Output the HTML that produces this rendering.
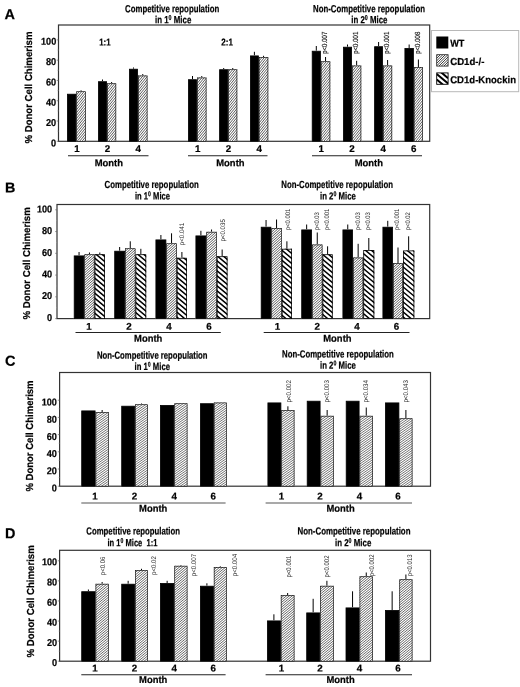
<!DOCTYPE html>
<html lang="en"><head><meta charset="utf-8"><title>Figure</title>
<style>
html,body{margin:0;padding:0;background:#fff;}
body{width:520px;height:687px;overflow:hidden;}
svg{display:block;font-family:'Liberation Sans', Arial, Helvetica, sans-serif;filter:grayscale(1);text-rendering:geometricPrecision;}
</style></head>
<body>
<svg width="520" height="687" viewBox="0 0 520 687">
<rect width="520" height="687" fill="#fff"/>
<defs><clipPath id="ckoA"><rect x="76.3" y="91.3" width="9.50" height="50.00"/><rect x="107" y="83.3" width="9.20" height="58.00"/><rect x="138" y="75.5" width="9.50" height="65.80"/><rect x="197" y="77.5" width="9.50" height="63.80"/><rect x="228.2" y="69.3" width="9.10" height="72.00"/><rect x="258.8" y="57" width="9.50" height="84.30"/><rect x="320.8" y="61.3" width="9.50" height="80.00"/><rect x="352" y="65.5" width="9.30" height="75.80"/><rect x="383" y="65.5" width="9.20" height="75.80"/><rect x="413.8" y="67" width="9.20" height="74.30"/></clipPath>
<clipPath id="ckoL"><rect x="436.7" y="54.7" width="11.40" height="11.40"/></clipPath>
<clipPath id="ckoB"><rect x="84.3" y="254.3" width="10.30" height="64.30"/><rect x="125" y="248.3" width="10.50" height="70.30"/><rect x="166.3" y="243.3" width="10.50" height="75.30"/><rect x="206.3" y="231.8" width="10.50" height="86.80"/><rect x="271.3" y="228" width="10.50" height="90.60"/><rect x="312" y="244.5" width="10.50" height="74.10"/><rect x="353" y="257.5" width="10.30" height="61.10"/><rect x="393" y="263" width="10.00" height="55.60"/></clipPath>
<clipPath id="ckoC"><rect x="95.5" y="412" width="13.30" height="74.20"/><rect x="135" y="404.3" width="13.00" height="81.90"/><rect x="174.3" y="403.3" width="13.20" height="82.90"/><rect x="213.8" y="402.5" width="13.00" height="83.70"/><rect x="281.3" y="410" width="13.20" height="76.20"/><rect x="320.5" y="415.8" width="13.30" height="70.40"/><rect x="359.5" y="415.8" width="13.50" height="70.40"/><rect x="399.3" y="418.3" width="13.20" height="67.90"/></clipPath>
<clipPath id="ckoD"><rect x="95.5" y="583.8" width="13.30" height="77.40"/><rect x="135" y="570" width="13.00" height="91.20"/><rect x="174.3" y="565.8" width="13.20" height="95.40"/><rect x="213.8" y="567" width="13.00" height="94.20"/><rect x="280.8" y="595" width="13.70" height="66.20"/><rect x="320" y="585.8" width="13.80" height="75.40"/><rect x="359.5" y="576.3" width="13.50" height="84.90"/><rect x="399.3" y="579.3" width="13.20" height="81.90"/></clipPath>
<clipPath id="ckil"><rect x="436.7" y="72.9" width="11.4" height="11.4"/></clipPath><clipPath id="cki"><rect x="94.6" y="254.3" width="10.40" height="64.30"/><rect x="135.5" y="254.3" width="10.70" height="64.30"/><rect x="176.8" y="257.8" width="10.20" height="60.80"/><rect x="216.8" y="256.3" width="10.70" height="62.30"/><rect x="281.8" y="248.8" width="10.20" height="69.80"/><rect x="322.5" y="254.3" width="10.20" height="64.30"/><rect x="363.3" y="250" width="11.00" height="68.60"/><rect x="403" y="250.5" width="11.30" height="68.10"/></clipPath></defs>
<rect x="58.5" y="25" width="371.2" height="116.30000000000001" fill="none" stroke="#333" stroke-width="1.2"/>
<line x1="56.7" y1="141.3" x2="58.5" y2="141.3" stroke="#666" stroke-width="0.7"/>
<line x1="57.5" y1="131.16000000000003" x2="58.5" y2="131.16000000000003" stroke="#999" stroke-width="0.6"/>
<line x1="56.7" y1="121.02000000000001" x2="58.5" y2="121.02000000000001" stroke="#666" stroke-width="0.7"/>
<line x1="57.5" y1="110.88000000000001" x2="58.5" y2="110.88000000000001" stroke="#999" stroke-width="0.6"/>
<line x1="56.7" y1="100.74000000000001" x2="58.5" y2="100.74000000000001" stroke="#666" stroke-width="0.7"/>
<line x1="57.5" y1="90.60000000000001" x2="58.5" y2="90.60000000000001" stroke="#999" stroke-width="0.6"/>
<line x1="56.7" y1="80.46000000000001" x2="58.5" y2="80.46000000000001" stroke="#666" stroke-width="0.7"/>
<line x1="57.5" y1="70.32000000000001" x2="58.5" y2="70.32000000000001" stroke="#999" stroke-width="0.6"/>
<line x1="56.7" y1="60.18000000000001" x2="58.5" y2="60.18000000000001" stroke="#666" stroke-width="0.7"/>
<line x1="57.5" y1="50.040000000000006" x2="58.5" y2="50.040000000000006" stroke="#999" stroke-width="0.6"/>
<line x1="56.7" y1="39.900000000000006" x2="58.5" y2="39.900000000000006" stroke="#666" stroke-width="0.7"/>
<rect x="67" y="93.8" width="9.30" height="47.50" fill="#fff"/>
<line x1="81.05" y1="90.3" x2="81.05" y2="91.3" stroke="#000" stroke-width="1.0"/>
<rect x="76.3" y="91.3" width="9.50" height="50.00" fill="#fff"/>
<line x1="102.5" y1="79.5" x2="102.5" y2="81.3" stroke="#000" stroke-width="1.0"/>
<rect x="98" y="81.3" width="9.00" height="60.00" fill="#fff"/>
<line x1="111.6" y1="82" x2="111.6" y2="83.3" stroke="#000" stroke-width="1.0"/>
<rect x="107" y="83.3" width="9.20" height="58.00" fill="#fff"/>
<line x1="133.5" y1="67.5" x2="133.5" y2="68.8" stroke="#000" stroke-width="1.0"/>
<rect x="129" y="68.8" width="9.00" height="72.50" fill="#fff"/>
<line x1="142.75" y1="74" x2="142.75" y2="75.5" stroke="#000" stroke-width="1.0"/>
<rect x="138" y="75.5" width="9.50" height="65.80" fill="#fff"/>
<line x1="192.5" y1="76" x2="192.5" y2="79.3" stroke="#000" stroke-width="1.0"/>
<rect x="188" y="79.3" width="9.00" height="62.00" fill="#fff"/>
<line x1="201.75" y1="76" x2="201.75" y2="77.5" stroke="#000" stroke-width="1.0"/>
<rect x="197" y="77.5" width="9.50" height="63.80" fill="#fff"/>
<line x1="223.7" y1="68" x2="223.7" y2="69.3" stroke="#000" stroke-width="1.0"/>
<rect x="219.2" y="69.3" width="9.00" height="72.00" fill="#fff"/>
<line x1="232.75" y1="68" x2="232.75" y2="69.3" stroke="#000" stroke-width="1.0"/>
<rect x="228.2" y="69.3" width="9.10" height="72.00" fill="#fff"/>
<line x1="254.4" y1="51.8" x2="254.4" y2="55.5" stroke="#000" stroke-width="1.0"/>
<rect x="250" y="55.5" width="8.80" height="85.80" fill="#fff"/>
<line x1="263.55" y1="55.8" x2="263.55" y2="57" stroke="#000" stroke-width="1.0"/>
<rect x="258.8" y="57" width="9.50" height="84.30" fill="#fff"/>
<line x1="316.3" y1="46" x2="316.3" y2="50.8" stroke="#000" stroke-width="1.0"/>
<rect x="311.8" y="50.8" width="9.00" height="90.50" fill="#fff"/>
<line x1="325.55" y1="57" x2="325.55" y2="61.3" stroke="#000" stroke-width="1.0"/>
<rect x="320.8" y="61.3" width="9.50" height="80.00" fill="#fff"/>
<line x1="347.5" y1="44.5" x2="347.5" y2="46.8" stroke="#000" stroke-width="1.0"/>
<rect x="343" y="46.8" width="9.00" height="94.50" fill="#fff"/>
<line x1="356.65" y1="60.8" x2="356.65" y2="65.5" stroke="#000" stroke-width="1.0"/>
<rect x="352" y="65.5" width="9.30" height="75.80" fill="#fff"/>
<line x1="378.6" y1="42" x2="378.6" y2="46.3" stroke="#000" stroke-width="1.0"/>
<rect x="374.2" y="46.3" width="8.80" height="95.00" fill="#fff"/>
<line x1="387.6" y1="60" x2="387.6" y2="65.5" stroke="#000" stroke-width="1.0"/>
<rect x="383" y="65.5" width="9.20" height="75.80" fill="#fff"/>
<line x1="409.15" y1="44.5" x2="409.15" y2="48" stroke="#000" stroke-width="1.0"/>
<rect x="404.5" y="48" width="9.30" height="93.30" fill="#fff"/>
<line x1="418.4" y1="59.5" x2="418.4" y2="67" stroke="#000" stroke-width="1.0"/>
<rect x="413.8" y="67" width="9.20" height="74.30" fill="#fff"/>
<line x1="68" y1="155.7" x2="148.5" y2="155.7" stroke="#222" stroke-width="1.1"/>
<line x1="188" y1="155.7" x2="267.5" y2="155.7" stroke="#222" stroke-width="1.1"/>
<line x1="312" y1="155.7" x2="422" y2="155.7" stroke="#222" stroke-width="1.1"/>
<rect x="431.5" y="30.5" width="87.2" height="61.2" fill="#fff" stroke="#b8b8b8" stroke-width="1"/>
<rect x="436.3" y="36.5" width="12" height="12" fill="#000"/>
<rect x="57" y="204.5" width="372.7" height="114.10000000000002" fill="none" stroke="#333" stroke-width="1.2"/>
<line x1="55.2" y1="318.6" x2="57" y2="318.6" stroke="#666" stroke-width="0.7"/>
<line x1="56.0" y1="307.72" x2="57" y2="307.72" stroke="#999" stroke-width="0.6"/>
<line x1="55.2" y1="296.84000000000003" x2="57" y2="296.84000000000003" stroke="#666" stroke-width="0.7"/>
<line x1="56.0" y1="285.96000000000004" x2="57" y2="285.96000000000004" stroke="#999" stroke-width="0.6"/>
<line x1="55.2" y1="275.08000000000004" x2="57" y2="275.08000000000004" stroke="#666" stroke-width="0.7"/>
<line x1="56.0" y1="264.20000000000005" x2="57" y2="264.20000000000005" stroke="#999" stroke-width="0.6"/>
<line x1="55.2" y1="253.32000000000002" x2="57" y2="253.32000000000002" stroke="#666" stroke-width="0.7"/>
<line x1="56.0" y1="242.44" x2="57" y2="242.44" stroke="#999" stroke-width="0.6"/>
<line x1="55.2" y1="231.56" x2="57" y2="231.56" stroke="#666" stroke-width="0.7"/>
<line x1="56.0" y1="220.68" x2="57" y2="220.68" stroke="#999" stroke-width="0.6"/>
<line x1="55.2" y1="209.8" x2="57" y2="209.8" stroke="#666" stroke-width="0.7"/>
<line x1="79.05" y1="252" x2="79.05" y2="255.5" stroke="#000" stroke-width="1.0"/>
<rect x="73.8" y="255.5" width="10.50" height="63.10" fill="#fff"/>
<line x1="89.44999999999999" y1="252.5" x2="89.44999999999999" y2="254.3" stroke="#000" stroke-width="1.0"/>
<rect x="84.3" y="254.3" width="10.30" height="64.30" fill="#fff"/>
<line x1="99.8" y1="252.5" x2="99.8" y2="254.3" stroke="#000" stroke-width="1.0"/>
<rect x="94.6" y="254.3" width="10.40" height="64.30" fill="#fff"/>
<line x1="119.65" y1="247" x2="119.65" y2="250.8" stroke="#000" stroke-width="1.0"/>
<rect x="114.3" y="250.8" width="10.70" height="67.80" fill="#fff"/>
<line x1="130.25" y1="241.3" x2="130.25" y2="248.3" stroke="#000" stroke-width="1.0"/>
<rect x="125" y="248.3" width="10.50" height="70.30" fill="#fff"/>
<line x1="140.85" y1="248.8" x2="140.85" y2="254.3" stroke="#000" stroke-width="1.0"/>
<rect x="135.5" y="254.3" width="10.70" height="64.30" fill="#fff"/>
<line x1="160.9" y1="235" x2="160.9" y2="239.5" stroke="#000" stroke-width="1.0"/>
<rect x="155.5" y="239.5" width="10.80" height="79.10" fill="#fff"/>
<line x1="171.55" y1="233.3" x2="171.55" y2="243.3" stroke="#000" stroke-width="1.0"/>
<rect x="166.3" y="243.3" width="10.50" height="75.30" fill="#fff"/>
<line x1="181.9" y1="252" x2="181.9" y2="257.8" stroke="#000" stroke-width="1.0"/>
<rect x="176.8" y="257.8" width="10.20" height="60.80" fill="#fff"/>
<line x1="200.9" y1="230.8" x2="200.9" y2="235.5" stroke="#000" stroke-width="1.0"/>
<rect x="195.5" y="235.5" width="10.80" height="83.10" fill="#fff"/>
<line x1="211.55" y1="229.5" x2="211.55" y2="231.8" stroke="#000" stroke-width="1.0"/>
<rect x="206.3" y="231.8" width="10.50" height="86.80" fill="#fff"/>
<line x1="222.15" y1="249.5" x2="222.15" y2="256.3" stroke="#000" stroke-width="1.0"/>
<rect x="216.8" y="256.3" width="10.70" height="62.30" fill="#fff"/>
<line x1="266.05" y1="220" x2="266.05" y2="226.8" stroke="#000" stroke-width="1.0"/>
<rect x="260.8" y="226.8" width="10.50" height="91.80" fill="#fff"/>
<line x1="276.55" y1="219.5" x2="276.55" y2="228" stroke="#000" stroke-width="1.0"/>
<rect x="271.3" y="228" width="10.50" height="90.60" fill="#fff"/>
<line x1="286.9" y1="241.3" x2="286.9" y2="248.8" stroke="#000" stroke-width="1.0"/>
<rect x="281.8" y="248.8" width="10.20" height="69.80" fill="#fff"/>
<line x1="306.65" y1="224.5" x2="306.65" y2="229.5" stroke="#000" stroke-width="1.0"/>
<rect x="301.3" y="229.5" width="10.70" height="89.10" fill="#fff"/>
<line x1="317.25" y1="232.5" x2="317.25" y2="244.5" stroke="#000" stroke-width="1.0"/>
<rect x="312" y="244.5" width="10.50" height="74.10" fill="#fff"/>
<line x1="327.6" y1="246.3" x2="327.6" y2="254.3" stroke="#000" stroke-width="1.0"/>
<rect x="322.5" y="254.3" width="10.20" height="64.30" fill="#fff"/>
<line x1="347.75" y1="224.5" x2="347.75" y2="229.5" stroke="#000" stroke-width="1.0"/>
<rect x="342.5" y="229.5" width="10.50" height="89.10" fill="#fff"/>
<line x1="358.15" y1="243.8" x2="358.15" y2="257.5" stroke="#000" stroke-width="1.0"/>
<rect x="353" y="257.5" width="10.30" height="61.10" fill="#fff"/>
<line x1="368.8" y1="238" x2="368.8" y2="250" stroke="#000" stroke-width="1.0"/>
<rect x="363.3" y="250" width="11.00" height="68.60" fill="#fff"/>
<line x1="387.75" y1="220.8" x2="387.75" y2="226.8" stroke="#000" stroke-width="1.0"/>
<rect x="382.5" y="226.8" width="10.50" height="91.80" fill="#fff"/>
<line x1="398.0" y1="247.5" x2="398.0" y2="263" stroke="#000" stroke-width="1.0"/>
<rect x="393" y="263" width="10.00" height="55.60" fill="#fff"/>
<line x1="408.65" y1="236.3" x2="408.65" y2="250.5" stroke="#000" stroke-width="1.0"/>
<rect x="403" y="250.5" width="11.30" height="68.10" fill="#fff"/>
<line x1="75.5" y1="332.5" x2="220.8" y2="332.5" stroke="#222" stroke-width="1.1"/>
<line x1="263.7" y1="332.5" x2="409.5" y2="332.5" stroke="#222" stroke-width="1.1"/>
<rect x="59.6" y="372.5" width="370.9" height="113.69999999999999" fill="none" stroke="#333" stroke-width="1.2"/>
<line x1="57.800000000000004" y1="486.2" x2="59.6" y2="486.2" stroke="#666" stroke-width="0.7"/>
<line x1="58.6" y1="477.59999999999997" x2="59.6" y2="477.59999999999997" stroke="#999" stroke-width="0.6"/>
<line x1="57.800000000000004" y1="469.0" x2="59.6" y2="469.0" stroke="#666" stroke-width="0.7"/>
<line x1="58.6" y1="460.4" x2="59.6" y2="460.4" stroke="#999" stroke-width="0.6"/>
<line x1="57.800000000000004" y1="451.8" x2="59.6" y2="451.8" stroke="#666" stroke-width="0.7"/>
<line x1="58.6" y1="443.2" x2="59.6" y2="443.2" stroke="#999" stroke-width="0.6"/>
<line x1="57.800000000000004" y1="434.59999999999997" x2="59.6" y2="434.59999999999997" stroke="#666" stroke-width="0.7"/>
<line x1="58.6" y1="426.0" x2="59.6" y2="426.0" stroke="#999" stroke-width="0.6"/>
<line x1="57.800000000000004" y1="417.4" x2="59.6" y2="417.4" stroke="#666" stroke-width="0.7"/>
<line x1="58.6" y1="408.79999999999995" x2="59.6" y2="408.79999999999995" stroke="#999" stroke-width="0.6"/>
<line x1="57.800000000000004" y1="400.2" x2="59.6" y2="400.2" stroke="#666" stroke-width="0.7"/>
<rect x="81.3" y="410.5" width="14.20" height="75.70" fill="#fff"/>
<line x1="102.15" y1="410" x2="102.15" y2="412" stroke="#000" stroke-width="1.0"/>
<rect x="95.5" y="412" width="13.30" height="74.20" fill="#fff"/>
<rect x="121.3" y="405.8" width="13.70" height="80.40" fill="#fff"/>
<line x1="141.5" y1="403.5" x2="141.5" y2="404.3" stroke="#000" stroke-width="1.0"/>
<rect x="135" y="404.3" width="13.00" height="81.90" fill="#fff"/>
<rect x="160" y="405" width="14.30" height="81.20" fill="#fff"/>
<rect x="174.3" y="403.3" width="13.20" height="82.90" fill="#fff"/>
<rect x="200" y="403.3" width="13.80" height="82.90" fill="#fff"/>
<rect x="213.8" y="402.5" width="13.00" height="83.70" fill="#fff"/>
<rect x="267.5" y="402.5" width="13.80" height="83.70" fill="#fff"/>
<line x1="287.9" y1="406.3" x2="287.9" y2="410" stroke="#000" stroke-width="1.0"/>
<rect x="281.3" y="410" width="13.20" height="76.20" fill="#fff"/>
<rect x="306.8" y="400.8" width="13.70" height="85.40" fill="#fff"/>
<line x1="327.15" y1="410" x2="327.15" y2="415.8" stroke="#000" stroke-width="1.0"/>
<rect x="320.5" y="415.8" width="13.30" height="70.40" fill="#fff"/>
<rect x="345.8" y="400.8" width="13.70" height="85.40" fill="#fff"/>
<line x1="366.25" y1="407.5" x2="366.25" y2="415.8" stroke="#000" stroke-width="1.0"/>
<rect x="359.5" y="415.8" width="13.50" height="70.40" fill="#fff"/>
<rect x="385" y="402.5" width="14.30" height="83.70" fill="#fff"/>
<line x1="405.9" y1="410" x2="405.9" y2="418.3" stroke="#000" stroke-width="1.0"/>
<rect x="399.3" y="418.3" width="13.20" height="67.90" fill="#fff"/>
<line x1="81.3" y1="503" x2="225.6" y2="503" stroke="#555" stroke-width="1.1"/>
<line x1="265.6" y1="503" x2="412" y2="503" stroke="#555" stroke-width="1.1"/>
<rect x="59.6" y="550.3" width="370.9" height="110.90000000000009" fill="none" stroke="#333" stroke-width="1.2"/>
<line x1="57.800000000000004" y1="661.2" x2="59.6" y2="661.2" stroke="#666" stroke-width="0.7"/>
<line x1="58.6" y1="651.1600000000001" x2="59.6" y2="651.1600000000001" stroke="#999" stroke-width="0.6"/>
<line x1="57.800000000000004" y1="641.12" x2="59.6" y2="641.12" stroke="#666" stroke-width="0.7"/>
<line x1="58.6" y1="631.08" x2="59.6" y2="631.08" stroke="#999" stroke-width="0.6"/>
<line x1="57.800000000000004" y1="621.0400000000001" x2="59.6" y2="621.0400000000001" stroke="#666" stroke-width="0.7"/>
<line x1="58.6" y1="611.0" x2="59.6" y2="611.0" stroke="#999" stroke-width="0.6"/>
<line x1="57.800000000000004" y1="600.96" x2="59.6" y2="600.96" stroke="#666" stroke-width="0.7"/>
<line x1="58.6" y1="590.9200000000001" x2="59.6" y2="590.9200000000001" stroke="#999" stroke-width="0.6"/>
<line x1="57.800000000000004" y1="580.8800000000001" x2="59.6" y2="580.8800000000001" stroke="#666" stroke-width="0.7"/>
<line x1="58.6" y1="570.84" x2="59.6" y2="570.84" stroke="#999" stroke-width="0.6"/>
<line x1="57.800000000000004" y1="560.8000000000001" x2="59.6" y2="560.8000000000001" stroke="#666" stroke-width="0.7"/>
<line x1="88.4" y1="589.5" x2="88.4" y2="591.3" stroke="#000" stroke-width="1.0"/>
<rect x="81.3" y="591.3" width="14.20" height="69.90" fill="#fff"/>
<line x1="102.15" y1="582" x2="102.15" y2="583.8" stroke="#000" stroke-width="1.0"/>
<rect x="95.5" y="583.8" width="13.30" height="77.40" fill="#fff"/>
<line x1="128.15" y1="580.8" x2="128.15" y2="583.8" stroke="#000" stroke-width="1.0"/>
<rect x="121.3" y="583.8" width="13.70" height="77.40" fill="#fff"/>
<line x1="141.5" y1="568.8" x2="141.5" y2="570" stroke="#000" stroke-width="1.0"/>
<rect x="135" y="570" width="13.00" height="91.20" fill="#fff"/>
<line x1="167.15" y1="580.8" x2="167.15" y2="583" stroke="#000" stroke-width="1.0"/>
<rect x="160" y="583" width="14.30" height="78.20" fill="#fff"/>
<line x1="180.9" y1="565" x2="180.9" y2="565.8" stroke="#000" stroke-width="1.0"/>
<rect x="174.3" y="565.8" width="13.20" height="95.40" fill="#fff"/>
<line x1="206.9" y1="583.3" x2="206.9" y2="585.8" stroke="#000" stroke-width="1.0"/>
<rect x="200" y="585.8" width="13.80" height="75.40" fill="#fff"/>
<line x1="220.3" y1="566.3" x2="220.3" y2="567" stroke="#000" stroke-width="1.0"/>
<rect x="213.8" y="567" width="13.00" height="94.20" fill="#fff"/>
<line x1="273.9" y1="614.3" x2="273.9" y2="620.5" stroke="#000" stroke-width="1.0"/>
<rect x="267" y="620.5" width="13.80" height="40.70" fill="#fff"/>
<line x1="287.65" y1="593" x2="287.65" y2="595" stroke="#000" stroke-width="1.0"/>
<rect x="280.8" y="595" width="13.70" height="66.20" fill="#fff"/>
<line x1="313.15" y1="598.8" x2="313.15" y2="612.5" stroke="#000" stroke-width="1.0"/>
<rect x="306.3" y="612.5" width="13.70" height="48.70" fill="#fff"/>
<line x1="326.9" y1="580.8" x2="326.9" y2="585.8" stroke="#000" stroke-width="1.0"/>
<rect x="320" y="585.8" width="13.80" height="75.40" fill="#fff"/>
<line x1="352.55" y1="591.3" x2="352.55" y2="607.5" stroke="#000" stroke-width="1.0"/>
<rect x="345.6" y="607.5" width="13.90" height="53.70" fill="#fff"/>
<line x1="366.25" y1="572.5" x2="366.25" y2="576.3" stroke="#000" stroke-width="1.0"/>
<rect x="359.5" y="576.3" width="13.50" height="84.90" fill="#fff"/>
<line x1="392.15" y1="591.3" x2="392.15" y2="610" stroke="#000" stroke-width="1.0"/>
<rect x="385" y="610" width="14.30" height="51.20" fill="#fff"/>
<line x1="405.9" y1="574.5" x2="405.9" y2="579.3" stroke="#000" stroke-width="1.0"/>
<rect x="399.3" y="579.3" width="13.20" height="81.90" fill="#fff"/>
<line x1="81.3" y1="674.8" x2="225.6" y2="674.8" stroke="#222" stroke-width="1.1"/>
<line x1="265.6" y1="674.8" x2="412" y2="674.8" stroke="#222" stroke-width="1.1"/>
<path d="M60 0.00L430 -451.40M60 2.95L430 -448.45M60 5.90L430 -445.50M60 8.85L430 -442.55M60 11.80L430 -439.60M60 14.75L430 -436.65M60 17.70L430 -433.70M60 20.65L430 -430.75M60 23.60L430 -427.80M60 26.55L430 -424.85M60 29.50L430 -421.90M60 32.45L430 -418.95M60 35.40L430 -416.00M60 38.35L430 -413.05M60 41.30L430 -410.10M60 44.25L430 -407.15M60 47.20L430 -404.20M60 50.15L430 -401.25M60 53.10L430 -398.30M60 56.05L430 -395.35M60 59.00L430 -392.40M60 61.95L430 -389.45M60 64.90L430 -386.50M60 67.85L430 -383.55M60 70.80L430 -380.60M60 73.75L430 -377.65M60 76.70L430 -374.70M60 79.65L430 -371.75M60 82.60L430 -368.80M60 85.55L430 -365.85M60 88.50L430 -362.90M60 91.45L430 -359.95M60 94.40L430 -357.00M60 97.35L430 -354.05M60 100.30L430 -351.10M60 103.25L430 -348.15M60 106.20L430 -345.20M60 109.15L430 -342.25M60 112.10L430 -339.30M60 115.05L430 -336.35M60 118.00L430 -333.40M60 120.95L430 -330.45M60 123.90L430 -327.50M60 126.85L430 -324.55M60 129.80L430 -321.60M60 132.75L430 -318.65M60 135.70L430 -315.70M60 138.65L430 -312.75M60 141.60L430 -309.80M60 144.55L430 -306.85M60 147.50L430 -303.90M60 150.45L430 -300.95M60 153.40L430 -298.00M60 156.35L430 -295.05M60 159.30L430 -292.10M60 162.25L430 -289.15M60 165.20L430 -286.20M60 168.15L430 -283.25M60 171.10L430 -280.30M60 174.05L430 -277.35M60 177.00L430 -274.40M60 179.95L430 -271.45M60 182.90L430 -268.50M60 185.85L430 -265.55M60 188.80L430 -262.60M60 191.75L430 -259.65M60 194.70L430 -256.70M60 197.65L430 -253.75M60 200.60L430 -250.80M60 203.55L430 -247.85M60 206.50L430 -244.90M60 209.45L430 -241.95M60 212.40L430 -239.00M60 215.35L430 -236.05M60 218.30L430 -233.10M60 221.25L430 -230.15M60 224.20L430 -227.20M60 227.15L430 -224.25M60 230.10L430 -221.30M60 233.05L430 -218.35M60 236.00L430 -215.40M60 238.95L430 -212.45M60 241.90L430 -209.50M60 244.85L430 -206.55M60 247.80L430 -203.60M60 250.75L430 -200.65M60 253.70L430 -197.70M60 256.65L430 -194.75M60 259.60L430 -191.80M60 262.55L430 -188.85M60 265.50L430 -185.90M60 268.45L430 -182.95M60 271.40L430 -180.00M60 274.35L430 -177.05M60 277.30L430 -174.10M60 280.25L430 -171.15M60 283.20L430 -168.20M60 286.15L430 -165.25M60 289.10L430 -162.30M60 292.05L430 -159.35M60 295.00L430 -156.40M60 297.95L430 -153.45M60 300.90L430 -150.50M60 303.85L430 -147.55M60 306.80L430 -144.60M60 309.75L430 -141.65M60 312.70L430 -138.70M60 315.65L430 -135.75M60 318.60L430 -132.80M60 321.55L430 -129.85M60 324.50L430 -126.90M60 327.45L430 -123.95M60 330.40L430 -121.00M60 333.35L430 -118.05M60 336.30L430 -115.10M60 339.25L430 -112.15M60 342.20L430 -109.20M60 345.15L430 -106.25M60 348.10L430 -103.30M60 351.05L430 -100.35M60 354.00L430 -97.40M60 356.95L430 -94.45M60 359.90L430 -91.50M60 362.85L430 -88.55M60 365.80L430 -85.60M60 368.75L430 -82.65M60 371.70L430 -79.70M60 374.65L430 -76.75M60 377.60L430 -73.80M60 380.55L430 -70.85M60 383.50L430 -67.90M60 386.45L430 -64.95M60 389.40L430 -62.00M60 392.35L430 -59.05M60 395.30L430 -56.10M60 398.25L430 -53.15M60 401.20L430 -50.20M60 404.15L430 -47.25M60 407.10L430 -44.30M60 410.05L430 -41.35M60 413.00L430 -38.40M60 415.95L430 -35.45M60 418.90L430 -32.50M60 421.85L430 -29.55M60 424.80L430 -26.60M60 427.75L430 -23.65M60 430.70L430 -20.70M60 433.65L430 -17.75M60 436.60L430 -14.80M60 439.55L430 -11.85M60 442.50L430 -8.90M60 445.45L430 -5.95M60 448.40L430 -3.00M60 451.35L430 -0.05M60 454.30L430 2.90M60 457.25L430 5.85M60 460.20L430 8.80M60 463.15L430 11.75M60 466.10L430 14.70M60 469.05L430 17.65M60 472.00L430 20.60M60 474.95L430 23.55M60 477.90L430 26.50M60 480.85L430 29.45M60 483.80L430 32.40M60 486.75L430 35.35M60 489.70L430 38.30M60 492.65L430 41.25M60 495.60L430 44.20M60 498.55L430 47.15M60 501.50L430 50.10M60 504.45L430 53.05M60 507.40L430 56.00M60 510.35L430 58.95M60 513.30L430 61.90M60 516.25L430 64.85M60 519.20L430 67.80M60 522.15L430 70.75M60 525.10L430 73.70M60 528.05L430 76.65M60 531.00L430 79.60M60 533.95L430 82.55M60 536.90L430 85.50M60 539.85L430 88.45M60 542.80L430 91.40M60 545.75L430 94.35M60 548.70L430 97.30M60 551.65L430 100.25M60 554.60L430 103.20M60 557.55L430 106.15M60 560.50L430 109.10M60 563.45L430 112.05M60 566.40L430 115.00M60 569.35L430 117.95M60 572.30L430 120.90M60 575.25L430 123.85M60 578.20L430 126.80M60 581.15L430 129.75M60 584.10L430 132.70M60 587.05L430 135.65M60 590.00L430 138.60M60 592.95L430 141.55M60 595.90L430 144.50M60 598.85L430 147.45M60 601.80L430 150.40M60 604.75L430 153.35M60 607.70L430 156.30M60 610.65L430 159.25M60 613.60L430 162.20M60 616.55L430 165.15M60 619.50L430 168.10M60 622.45L430 171.05M60 625.40L430 174.00" stroke="#000" stroke-width="0.64" fill="none" clip-path="url(#ckoA)"/>
<path d="M430 50.00L450 30.00M430 52.50L450 32.50M430 55.00L450 35.00M430 57.50L450 37.50M430 60.00L450 40.00M430 62.50L450 42.50M430 65.00L450 45.00M430 67.50L450 47.50M430 70.00L450 50.00M430 72.50L450 52.50M430 75.00L450 55.00M430 77.50L450 57.50M430 80.00L450 60.00M430 82.50L450 62.50M430 85.00L450 65.00M430 87.50L450 67.50" stroke="#000" stroke-width="0.75" fill="none" clip-path="url(#ckoL)"/>
<path d="M60 175.00L430 -158.00M60 177.50L430 -155.50M60 180.00L430 -153.00M60 182.50L430 -150.50M60 185.00L430 -148.00M60 187.50L430 -145.50M60 190.00L430 -143.00M60 192.50L430 -140.50M60 195.00L430 -138.00M60 197.50L430 -135.50M60 200.00L430 -133.00M60 202.50L430 -130.50M60 205.00L430 -128.00M60 207.50L430 -125.50M60 210.00L430 -123.00M60 212.50L430 -120.50M60 215.00L430 -118.00M60 217.50L430 -115.50M60 220.00L430 -113.00M60 222.50L430 -110.50M60 225.00L430 -108.00M60 227.50L430 -105.50M60 230.00L430 -103.00M60 232.50L430 -100.50M60 235.00L430 -98.00M60 237.50L430 -95.50M60 240.00L430 -93.00M60 242.50L430 -90.50M60 245.00L430 -88.00M60 247.50L430 -85.50M60 250.00L430 -83.00M60 252.50L430 -80.50M60 255.00L430 -78.00M60 257.50L430 -75.50M60 260.00L430 -73.00M60 262.50L430 -70.50M60 265.00L430 -68.00M60 267.50L430 -65.50M60 270.00L430 -63.00M60 272.50L430 -60.50M60 275.00L430 -58.00M60 277.50L430 -55.50M60 280.00L430 -53.00M60 282.50L430 -50.50M60 285.00L430 -48.00M60 287.50L430 -45.50M60 290.00L430 -43.00M60 292.50L430 -40.50M60 295.00L430 -38.00M60 297.50L430 -35.50M60 300.00L430 -33.00M60 302.50L430 -30.50M60 305.00L430 -28.00M60 307.50L430 -25.50M60 310.00L430 -23.00M60 312.50L430 -20.50M60 315.00L430 -18.00M60 317.50L430 -15.50M60 320.00L430 -13.00M60 322.50L430 -10.50M60 325.00L430 -8.00M60 327.50L430 -5.50M60 330.00L430 -3.00M60 332.50L430 -0.50M60 335.00L430 2.00M60 337.50L430 4.50M60 340.00L430 7.00M60 342.50L430 9.50M60 345.00L430 12.00M60 347.50L430 14.50M60 350.00L430 17.00M60 352.50L430 19.50M60 355.00L430 22.00M60 357.50L430 24.50M60 360.00L430 27.00M60 362.50L430 29.50M60 365.00L430 32.00M60 367.50L430 34.50M60 370.00L430 37.00M60 372.50L430 39.50M60 375.00L430 42.00M60 377.50L430 44.50M60 380.00L430 47.00M60 382.50L430 49.50M60 385.00L430 52.00M60 387.50L430 54.50M60 390.00L430 57.00M60 392.50L430 59.50M60 395.00L430 62.00M60 397.50L430 64.50M60 400.00L430 67.00M60 402.50L430 69.50M60 405.00L430 72.00M60 407.50L430 74.50M60 410.00L430 77.00M60 412.50L430 79.50M60 415.00L430 82.00M60 417.50L430 84.50M60 420.00L430 87.00M60 422.50L430 89.50M60 425.00L430 92.00M60 427.50L430 94.50M60 430.00L430 97.00M60 432.50L430 99.50M60 435.00L430 102.00M60 437.50L430 104.50M60 440.00L430 107.00M60 442.50L430 109.50M60 445.00L430 112.00M60 447.50L430 114.50M60 450.00L430 117.00M60 452.50L430 119.50M60 455.00L430 122.00M60 457.50L430 124.50M60 460.00L430 127.00M60 462.50L430 129.50M60 465.00L430 132.00M60 467.50L430 134.50M60 470.00L430 137.00M60 472.50L430 139.50M60 475.00L430 142.00M60 477.50L430 144.50M60 480.00L430 147.00M60 482.50L430 149.50M60 485.00L430 152.00M60 487.50L430 154.50M60 490.00L430 157.00M60 492.50L430 159.50M60 495.00L430 162.00M60 497.50L430 164.50M60 500.00L430 167.00M60 502.50L430 169.50M60 505.00L430 172.00M60 507.50L430 174.50M60 510.00L430 177.00M60 512.50L430 179.50M60 515.00L430 182.00M60 517.50L430 184.50M60 520.00L430 187.00M60 522.50L430 189.50M60 525.00L430 192.00M60 527.50L430 194.50M60 530.00L430 197.00M60 532.50L430 199.50M60 535.00L430 202.00M60 537.50L430 204.50M60 540.00L430 207.00M60 542.50L430 209.50M60 545.00L430 212.00M60 547.50L430 214.50M60 550.00L430 217.00M60 552.50L430 219.50M60 555.00L430 222.00M60 557.50L430 224.50M60 560.00L430 227.00M60 562.50L430 229.50M60 565.00L430 232.00M60 567.50L430 234.50M60 570.00L430 237.00M60 572.50L430 239.50M60 575.00L430 242.00M60 577.50L430 244.50M60 580.00L430 247.00M60 582.50L430 249.50M60 585.00L430 252.00M60 587.50L430 254.50M60 590.00L430 257.00M60 592.50L430 259.50M60 595.00L430 262.00M60 597.50L430 264.50M60 600.00L430 267.00M60 602.50L430 269.50M60 605.00L430 272.00M60 607.50L430 274.50M60 610.00L430 277.00M60 612.50L430 279.50M60 615.00L430 282.00M60 617.50L430 284.50M60 620.00L430 287.00M60 622.50L430 289.50M60 625.00L430 292.00M60 627.50L430 294.50M60 630.00L430 297.00M60 632.50L430 299.50M60 635.00L430 302.00M60 637.50L430 304.50M60 640.00L430 307.00M60 642.50L430 309.50M60 645.00L430 312.00M60 647.50L430 314.50M60 650.00L430 317.00M60 652.50L430 319.50M60 655.00L430 322.00M60 657.50L430 324.50M60 660.00L430 327.00M60 662.50L430 329.50M60 665.00L430 332.00M60 667.50L430 334.50M60 670.00L430 337.00M60 672.50L430 339.50M60 675.00L430 342.00M60 677.50L430 344.50" stroke="#000" stroke-width="0.64" fill="none" clip-path="url(#ckoB)"/>
<path d="M60 345.00L430 86.00M60 347.30L430 88.30M60 349.60L430 90.60M60 351.90L430 92.90M60 354.20L430 95.20M60 356.50L430 97.50M60 358.80L430 99.80M60 361.10L430 102.10M60 363.40L430 104.40M60 365.70L430 106.70M60 368.00L430 109.00M60 370.30L430 111.30M60 372.60L430 113.60M60 374.90L430 115.90M60 377.20L430 118.20M60 379.50L430 120.50M60 381.80L430 122.80M60 384.10L430 125.10M60 386.40L430 127.40M60 388.70L430 129.70M60 391.00L430 132.00M60 393.30L430 134.30M60 395.60L430 136.60M60 397.90L430 138.90M60 400.20L430 141.20M60 402.50L430 143.50M60 404.80L430 145.80M60 407.10L430 148.10M60 409.40L430 150.40M60 411.70L430 152.70M60 414.00L430 155.00M60 416.30L430 157.30M60 418.60L430 159.60M60 420.90L430 161.90M60 423.20L430 164.20M60 425.50L430 166.50M60 427.80L430 168.80M60 430.10L430 171.10M60 432.40L430 173.40M60 434.70L430 175.70M60 437.00L430 178.00M60 439.30L430 180.30M60 441.60L430 182.60M60 443.90L430 184.90M60 446.20L430 187.20M60 448.50L430 189.50M60 450.80L430 191.80M60 453.10L430 194.10M60 455.40L430 196.40M60 457.70L430 198.70M60 460.00L430 201.00M60 462.30L430 203.30M60 464.60L430 205.60M60 466.90L430 207.90M60 469.20L430 210.20M60 471.50L430 212.50M60 473.80L430 214.80M60 476.10L430 217.10M60 478.40L430 219.40M60 480.70L430 221.70M60 483.00L430 224.00M60 485.30L430 226.30M60 487.60L430 228.60M60 489.90L430 230.90M60 492.20L430 233.20M60 494.50L430 235.50M60 496.80L430 237.80M60 499.10L430 240.10M60 501.40L430 242.40M60 503.70L430 244.70M60 506.00L430 247.00M60 508.30L430 249.30M60 510.60L430 251.60M60 512.90L430 253.90M60 515.20L430 256.20M60 517.50L430 258.50M60 519.80L430 260.80M60 522.10L430 263.10M60 524.40L430 265.40M60 526.70L430 267.70M60 529.00L430 270.00M60 531.30L430 272.30M60 533.60L430 274.60M60 535.90L430 276.90M60 538.20L430 279.20M60 540.50L430 281.50M60 542.80L430 283.80M60 545.10L430 286.10M60 547.40L430 288.40M60 549.70L430 290.70M60 552.00L430 293.00M60 554.30L430 295.30M60 556.60L430 297.60M60 558.90L430 299.90M60 561.20L430 302.20M60 563.50L430 304.50M60 565.80L430 306.80M60 568.10L430 309.10M60 570.40L430 311.40M60 572.70L430 313.70M60 575.00L430 316.00M60 577.30L430 318.30M60 579.60L430 320.60M60 581.90L430 322.90M60 584.20L430 325.20M60 586.50L430 327.50M60 588.80L430 329.80M60 591.10L430 332.10M60 593.40L430 334.40M60 595.70L430 336.70M60 598.00L430 339.00M60 600.30L430 341.30M60 602.60L430 343.60M60 604.90L430 345.90M60 607.20L430 348.20M60 609.50L430 350.50M60 611.80L430 352.80M60 614.10L430 355.10M60 616.40L430 357.40M60 618.70L430 359.70M60 621.00L430 362.00M60 623.30L430 364.30M60 625.60L430 366.60M60 627.90L430 368.90M60 630.20L430 371.20M60 632.50L430 373.50M60 634.80L430 375.80M60 637.10L430 378.10M60 639.40L430 380.40M60 641.70L430 382.70M60 644.00L430 385.00M60 646.30L430 387.30M60 648.60L430 389.60M60 650.90L430 391.90M60 653.20L430 394.20M60 655.50L430 396.50M60 657.80L430 398.80M60 660.10L430 401.10M60 662.40L430 403.40M60 664.70L430 405.70M60 667.00L430 408.00M60 669.30L430 410.30M60 671.60L430 412.60M60 673.90L430 414.90M60 676.20L430 417.20M60 678.50L430 419.50M60 680.80L430 421.80M60 683.10L430 424.10M60 685.40L430 426.40M60 687.70L430 428.70M60 690.00L430 431.00M60 692.30L430 433.30M60 694.60L430 435.60M60 696.90L430 437.90M60 699.20L430 440.20M60 701.50L430 442.50M60 703.80L430 444.80M60 706.10L430 447.10M60 708.40L430 449.40M60 710.70L430 451.70M60 713.00L430 454.00M60 715.30L430 456.30M60 717.60L430 458.60M60 719.90L430 460.90M60 722.20L430 463.20M60 724.50L430 465.50M60 726.80L430 467.80M60 729.10L430 470.10M60 731.40L430 472.40M60 733.70L430 474.70M60 736.00L430 477.00M60 738.30L430 479.30M60 740.60L430 481.60M60 742.90L430 483.90M60 745.20L430 486.20M60 747.50L430 488.50M60 749.80L430 490.80M60 752.10L430 493.10M60 754.40L430 495.40M60 756.70L430 497.70M60 759.00L430 500.00M60 761.30L430 502.30M60 763.60L430 504.60M60 765.90L430 506.90M60 768.20L430 509.20M60 770.50L430 511.50M60 772.80L430 513.80" stroke="#000" stroke-width="0.56" fill="none" clip-path="url(#ckoC)"/>
<path d="M60 515.00L430 207.90M60 517.40L430 210.30M60 519.80L430 212.70M60 522.20L430 215.10M60 524.60L430 217.50M60 527.00L430 219.90M60 529.40L430 222.30M60 531.80L430 224.70M60 534.20L430 227.10M60 536.60L430 229.50M60 539.00L430 231.90M60 541.40L430 234.30M60 543.80L430 236.70M60 546.20L430 239.10M60 548.60L430 241.50M60 551.00L430 243.90M60 553.40L430 246.30M60 555.80L430 248.70M60 558.20L430 251.10M60 560.60L430 253.50M60 563.00L430 255.90M60 565.40L430 258.30M60 567.80L430 260.70M60 570.20L430 263.10M60 572.60L430 265.50M60 575.00L430 267.90M60 577.40L430 270.30M60 579.80L430 272.70M60 582.20L430 275.10M60 584.60L430 277.50M60 587.00L430 279.90M60 589.40L430 282.30M60 591.80L430 284.70M60 594.20L430 287.10M60 596.60L430 289.50M60 599.00L430 291.90M60 601.40L430 294.30M60 603.80L430 296.70M60 606.20L430 299.10M60 608.60L430 301.50M60 611.00L430 303.90M60 613.40L430 306.30M60 615.80L430 308.70M60 618.20L430 311.10M60 620.60L430 313.50M60 623.00L430 315.90M60 625.40L430 318.30M60 627.80L430 320.70M60 630.20L430 323.10M60 632.60L430 325.50M60 635.00L430 327.90M60 637.40L430 330.30M60 639.80L430 332.70M60 642.20L430 335.10M60 644.60L430 337.50M60 647.00L430 339.90M60 649.40L430 342.30M60 651.80L430 344.70M60 654.20L430 347.10M60 656.60L430 349.50M60 659.00L430 351.90M60 661.40L430 354.30M60 663.80L430 356.70M60 666.20L430 359.10M60 668.60L430 361.50M60 671.00L430 363.90M60 673.40L430 366.30M60 675.80L430 368.70M60 678.20L430 371.10M60 680.60L430 373.50M60 683.00L430 375.90M60 685.40L430 378.30M60 687.80L430 380.70M60 690.20L430 383.10M60 692.60L430 385.50M60 695.00L430 387.90M60 697.40L430 390.30M60 699.80L430 392.70M60 702.20L430 395.10M60 704.60L430 397.50M60 707.00L430 399.90M60 709.40L430 402.30M60 711.80L430 404.70M60 714.20L430 407.10M60 716.60L430 409.50M60 719.00L430 411.90M60 721.40L430 414.30M60 723.80L430 416.70M60 726.20L430 419.10M60 728.60L430 421.50M60 731.00L430 423.90M60 733.40L430 426.30M60 735.80L430 428.70M60 738.20L430 431.10M60 740.60L430 433.50M60 743.00L430 435.90M60 745.40L430 438.30M60 747.80L430 440.70M60 750.20L430 443.10M60 752.60L430 445.50M60 755.00L430 447.90M60 757.40L430 450.30M60 759.80L430 452.70M60 762.20L430 455.10M60 764.60L430 457.50M60 767.00L430 459.90M60 769.40L430 462.30M60 771.80L430 464.70M60 774.20L430 467.10M60 776.60L430 469.50M60 779.00L430 471.90M60 781.40L430 474.30M60 783.80L430 476.70M60 786.20L430 479.10M60 788.60L430 481.50M60 791.00L430 483.90M60 793.40L430 486.30M60 795.80L430 488.70M60 798.20L430 491.10M60 800.60L430 493.50M60 803.00L430 495.90M60 805.40L430 498.30M60 807.80L430 500.70M60 810.20L430 503.10M60 812.60L430 505.50M60 815.00L430 507.90M60 817.40L430 510.30M60 819.80L430 512.70M60 822.20L430 515.10M60 824.60L430 517.50M60 827.00L430 519.90M60 829.40L430 522.30M60 831.80L430 524.70M60 834.20L430 527.10M60 836.60L430 529.50M60 839.00L430 531.90M60 841.40L430 534.30M60 843.80L430 536.70M60 846.20L430 539.10M60 848.60L430 541.50M60 851.00L430 543.90M60 853.40L430 546.30M60 855.80L430 548.70M60 858.20L430 551.10M60 860.60L430 553.50M60 863.00L430 555.90M60 865.40L430 558.30M60 867.80L430 560.70M60 870.20L430 563.10M60 872.60L430 565.50M60 875.00L430 567.90M60 877.40L430 570.30M60 879.80L430 572.70M60 882.20L430 575.10M60 884.60L430 577.50M60 887.00L430 579.90M60 889.40L430 582.30M60 891.80L430 584.70M60 894.20L430 587.10M60 896.60L430 589.50M60 899.00L430 591.90M60 901.40L430 594.30M60 903.80L430 596.70M60 906.20L430 599.10M60 908.60L430 601.50M60 911.00L430 603.90M60 913.40L430 606.30M60 915.80L430 608.70M60 918.20L430 611.10M60 920.60L430 613.50M60 923.00L430 615.90M60 925.40L430 618.30M60 927.80L430 620.70M60 930.20L430 623.10M60 932.60L430 625.50M60 935.00L430 627.90M60 937.40L430 630.30M60 939.80L430 632.70M60 942.20L430 635.10M60 944.60L430 637.50M60 947.00L430 639.90M60 949.40L430 642.30M60 951.80L430 644.70M60 954.20L430 647.10M60 956.60L430 649.50M60 959.00L430 651.90M60 961.40L430 654.30M60 963.80L430 656.70M60 966.20L430 659.10M60 968.60L430 661.50M60 971.00L430 663.90M60 973.40L430 666.30M60 975.80L430 668.70M60 978.20L430 671.10M60 980.60L430 673.50M60 983.00L430 675.90M60 985.40L430 678.30M60 987.80L430 680.70M60 990.20L430 683.10M60 992.60L430 685.50" stroke="#000" stroke-width="0.6" fill="none" clip-path="url(#ckoD)"/>
<path d="M0 -436.33L520 0.00M0 -431.33L520 5.00M0 -426.33L520 10.00M0 -421.33L520 15.00M0 -416.33L520 20.00M0 -411.33L520 25.00M0 -406.33L520 30.00M0 -401.33L520 35.00M0 -396.33L520 40.00M0 -391.33L520 45.00M0 -386.33L520 50.00M0 -381.33L520 55.00M0 -376.33L520 60.00M0 -371.33L520 65.00M0 -366.33L520 70.00M0 -361.33L520 75.00M0 -356.33L520 80.00M0 -351.33L520 85.00M0 -346.33L520 90.00M0 -341.33L520 95.00M0 -336.33L520 100.00M0 -331.33L520 105.00M0 -326.33L520 110.00M0 -321.33L520 115.00M0 -316.33L520 120.00M0 -311.33L520 125.00M0 -306.33L520 130.00M0 -301.33L520 135.00M0 -296.33L520 140.00M0 -291.33L520 145.00M0 -286.33L520 150.00M0 -281.33L520 155.00M0 -276.33L520 160.00M0 -271.33L520 165.00M0 -266.33L520 170.00M0 -261.33L520 175.00M0 -256.33L520 180.00M0 -251.33L520 185.00M0 -246.33L520 190.00M0 -241.33L520 195.00M0 -236.33L520 200.00M0 -231.33L520 205.00M0 -226.33L520 210.00M0 -221.33L520 215.00M0 -216.33L520 220.00M0 -211.33L520 225.00M0 -206.33L520 230.00M0 -201.33L520 235.00M0 -196.33L520 240.00M0 -191.33L520 245.00M0 -186.33L520 250.00M0 -181.33L520 255.00M0 -176.33L520 260.00M0 -171.33L520 265.00M0 -166.33L520 270.00M0 -161.33L520 275.00M0 -156.33L520 280.00M0 -151.33L520 285.00M0 -146.33L520 290.00M0 -141.33L520 295.00M0 -136.33L520 300.00M0 -131.33L520 305.00M0 -126.33L520 310.00M0 -121.33L520 315.00M0 -116.33L520 320.00M0 -111.33L520 325.00M0 -106.33L520 330.00M0 -101.33L520 335.00M0 -96.33L520 340.00M0 -91.33L520 345.00M0 -86.33L520 350.00M0 -81.33L520 355.00M0 -76.33L520 360.00M0 -71.33L520 365.00M0 -66.33L520 370.00M0 -61.33L520 375.00M0 -56.33L520 380.00M0 -51.33L520 385.00M0 -46.33L520 390.00M0 -41.33L520 395.00M0 -36.33L520 400.00M0 -31.33L520 405.00M0 -26.33L520 410.00M0 -21.33L520 415.00M0 -16.33L520 420.00M0 -11.33L520 425.00M0 -6.33L520 430.00M0 -1.33L520 435.00M0 3.67L520 440.00M0 8.67L520 445.00M0 13.67L520 450.00M0 18.67L520 455.00M0 23.67L520 460.00M0 28.67L520 465.00M0 33.67L520 470.00M0 38.67L520 475.00M0 43.67L520 480.00M0 48.67L520 485.00M0 53.67L520 490.00M0 58.67L520 495.00M0 63.67L520 500.00M0 68.67L520 505.00M0 73.67L520 510.00M0 78.67L520 515.00M0 83.67L520 520.00M0 88.67L520 525.00M0 93.67L520 530.00M0 98.67L520 535.00M0 103.67L520 540.00M0 108.67L520 545.00M0 113.67L520 550.00M0 118.67L520 555.00M0 123.67L520 560.00M0 128.67L520 565.00M0 133.67L520 570.00M0 138.67L520 575.00M0 143.67L520 580.00M0 148.67L520 585.00M0 153.67L520 590.00M0 158.67L520 595.00M0 163.67L520 600.00M0 168.67L520 605.00M0 173.67L520 610.00M0 178.67L520 615.00M0 183.67L520 620.00M0 188.67L520 625.00M0 193.67L520 630.00M0 198.67L520 635.00M0 203.67L520 640.00M0 208.67L520 645.00M0 213.67L520 650.00M0 218.67L520 655.00M0 223.67L520 660.00M0 228.67L520 665.00M0 233.67L520 670.00M0 238.67L520 675.00M0 243.67L520 680.00M0 248.67L520 685.00M0 253.67L520 690.00M0 258.67L520 695.00M0 263.67L520 700.00M0 268.67L520 705.00M0 273.67L520 710.00M0 278.67L520 715.00M0 283.67L520 720.00M0 288.67L520 725.00M0 293.67L520 730.00M0 298.67L520 735.00M0 303.67L520 740.00M0 308.67L520 745.00M0 313.67L520 750.00M0 318.67L520 755.00M0 323.67L520 760.00M0 328.67L520 765.00M0 333.67L520 770.00M0 338.67L520 775.00M0 343.67L520 780.00M0 348.67L520 785.00M0 353.67L520 790.00M0 358.67L520 795.00M0 363.67L520 800.00M0 368.67L520 805.00M0 373.67L520 810.00M0 378.67L520 815.00M0 383.67L520 820.00M0 388.67L520 825.00M0 393.67L520 830.00M0 398.67L520 835.00M0 403.67L520 840.00M0 408.67L520 845.00M0 413.67L520 850.00M0 418.67L520 855.00M0 423.67L520 860.00M0 428.67L520 865.00M0 433.67L520 870.00M0 438.67L520 875.00M0 443.67L520 880.00M0 448.67L520 885.00M0 453.67L520 890.00M0 458.67L520 895.00M0 463.67L520 900.00M0 468.67L520 905.00M0 473.67L520 910.00M0 478.67L520 915.00M0 483.67L520 920.00M0 488.67L520 925.00M0 493.67L520 930.00M0 498.67L520 935.00M0 503.67L520 940.00M0 508.67L520 945.00M0 513.67L520 950.00M0 518.67L520 955.00M0 523.67L520 960.00M0 528.67L520 965.00M0 533.67L520 970.00M0 538.67L520 975.00M0 543.67L520 980.00M0 548.67L520 985.00M0 553.67L520 990.00M0 558.67L520 995.00M0 563.67L520 1000.00M0 568.67L520 1005.00M0 573.67L520 1010.00M0 578.67L520 1015.00M0 583.67L520 1020.00M0 588.67L520 1025.00M0 593.67L520 1030.00M0 598.67L520 1035.00M0 603.67L520 1040.00M0 608.67L520 1045.00M0 613.67L520 1050.00M0 618.67L520 1055.00M0 623.67L520 1060.00M0 628.67L520 1065.00M0 633.67L520 1070.00M0 638.67L520 1075.00M0 643.67L520 1080.00M0 648.67L520 1085.00M0 653.67L520 1090.00M0 658.67L520 1095.00M0 663.67L520 1100.00M0 668.67L520 1105.00M0 673.67L520 1110.00M0 678.67L520 1115.00M0 683.67L520 1120.00" stroke="#000" stroke-width="1.5" fill="none" clip-path="url(#cki)"/>
<path d="M436.7 57.80L448.1 67.37M436.7 63.20L448.1 72.77M436.7 68.60L448.1 78.17M436.7 74.00L448.1 83.57M436.7 79.40L448.1 88.97M436.7 84.80L448.1 94.37M436.7 90.20L448.1 99.77" stroke="#000" stroke-width="2.0" fill="none" clip-path="url(#ckil)"/>
<rect x="67.40" y="94.20" width="8.50" height="47.10" fill="#000" stroke="#000" stroke-width="0.8"/>
<rect x="76.70" y="91.70" width="8.70" height="49.60" fill="none" stroke="#1a1a1a" stroke-width="0.7"/>
<rect x="98.40" y="81.70" width="8.20" height="59.60" fill="#000" stroke="#000" stroke-width="0.8"/>
<rect x="107.40" y="83.70" width="8.40" height="57.60" fill="none" stroke="#1a1a1a" stroke-width="0.7"/>
<rect x="129.40" y="69.20" width="8.20" height="72.10" fill="#000" stroke="#000" stroke-width="0.8"/>
<rect x="138.40" y="75.90" width="8.70" height="65.40" fill="none" stroke="#1a1a1a" stroke-width="0.7"/>
<rect x="188.40" y="79.70" width="8.20" height="61.60" fill="#000" stroke="#000" stroke-width="0.8"/>
<rect x="197.40" y="77.90" width="8.70" height="63.40" fill="none" stroke="#1a1a1a" stroke-width="0.7"/>
<rect x="219.60" y="69.70" width="8.20" height="71.60" fill="#000" stroke="#000" stroke-width="0.8"/>
<rect x="228.60" y="69.70" width="8.30" height="71.60" fill="none" stroke="#1a1a1a" stroke-width="0.7"/>
<rect x="250.40" y="55.90" width="8.00" height="85.40" fill="#000" stroke="#000" stroke-width="0.8"/>
<rect x="259.20" y="57.40" width="8.70" height="83.90" fill="none" stroke="#1a1a1a" stroke-width="0.7"/>
<rect x="312.20" y="51.20" width="8.20" height="90.10" fill="#000" stroke="#000" stroke-width="0.8"/>
<rect x="321.20" y="61.70" width="8.70" height="79.60" fill="none" stroke="#1a1a1a" stroke-width="0.7"/>
<rect x="343.40" y="47.20" width="8.20" height="94.10" fill="#000" stroke="#000" stroke-width="0.8"/>
<rect x="352.40" y="65.90" width="8.50" height="75.40" fill="none" stroke="#1a1a1a" stroke-width="0.7"/>
<rect x="374.60" y="46.70" width="8.00" height="94.60" fill="#000" stroke="#000" stroke-width="0.8"/>
<rect x="383.40" y="65.90" width="8.40" height="75.40" fill="none" stroke="#1a1a1a" stroke-width="0.7"/>
<rect x="404.90" y="48.40" width="8.50" height="92.90" fill="#000" stroke="#000" stroke-width="0.8"/>
<rect x="414.20" y="67.40" width="8.40" height="73.90" fill="none" stroke="#1a1a1a" stroke-width="0.7"/>
<rect x="436.7" y="54.7" width="11.4" height="11.4" fill="none" stroke="#222" stroke-width="0.8"/>
<rect x="436.7" y="72.9" width="11.4" height="11.4" fill="none" stroke="#000" stroke-width="0.9"/>
<rect x="74.20" y="255.90" width="9.70" height="62.70" fill="#000" stroke="#000" stroke-width="0.8"/>
<rect x="84.70" y="254.70" width="9.50" height="63.90" fill="none" stroke="#1a1a1a" stroke-width="0.7"/>
<rect x="95.00" y="254.70" width="9.60" height="63.90" fill="none" stroke="#000" stroke-width="0.8"/>
<rect x="114.70" y="251.20" width="9.90" height="67.40" fill="#000" stroke="#000" stroke-width="0.8"/>
<rect x="125.40" y="248.70" width="9.70" height="69.90" fill="none" stroke="#1a1a1a" stroke-width="0.7"/>
<rect x="135.90" y="254.70" width="9.90" height="63.90" fill="none" stroke="#000" stroke-width="0.8"/>
<rect x="155.90" y="239.90" width="10.00" height="78.70" fill="#000" stroke="#000" stroke-width="0.8"/>
<rect x="166.70" y="243.70" width="9.70" height="74.90" fill="none" stroke="#1a1a1a" stroke-width="0.7"/>
<rect x="177.20" y="258.20" width="9.40" height="60.40" fill="none" stroke="#000" stroke-width="0.8"/>
<rect x="195.90" y="235.90" width="10.00" height="82.70" fill="#000" stroke="#000" stroke-width="0.8"/>
<rect x="206.70" y="232.20" width="9.70" height="86.40" fill="none" stroke="#1a1a1a" stroke-width="0.7"/>
<rect x="217.20" y="256.70" width="9.90" height="61.90" fill="none" stroke="#000" stroke-width="0.8"/>
<rect x="261.20" y="227.20" width="9.70" height="91.40" fill="#000" stroke="#000" stroke-width="0.8"/>
<rect x="271.70" y="228.40" width="9.70" height="90.20" fill="none" stroke="#1a1a1a" stroke-width="0.7"/>
<rect x="282.20" y="249.20" width="9.40" height="69.40" fill="none" stroke="#000" stroke-width="0.8"/>
<rect x="301.70" y="229.90" width="9.90" height="88.70" fill="#000" stroke="#000" stroke-width="0.8"/>
<rect x="312.40" y="244.90" width="9.70" height="73.70" fill="none" stroke="#1a1a1a" stroke-width="0.7"/>
<rect x="322.90" y="254.70" width="9.40" height="63.90" fill="none" stroke="#000" stroke-width="0.8"/>
<rect x="342.90" y="229.90" width="9.70" height="88.70" fill="#000" stroke="#000" stroke-width="0.8"/>
<rect x="353.40" y="257.90" width="9.50" height="60.70" fill="none" stroke="#1a1a1a" stroke-width="0.7"/>
<rect x="363.70" y="250.40" width="10.20" height="68.20" fill="none" stroke="#000" stroke-width="0.8"/>
<rect x="382.90" y="227.20" width="9.70" height="91.40" fill="#000" stroke="#000" stroke-width="0.8"/>
<rect x="393.40" y="263.40" width="9.20" height="55.20" fill="none" stroke="#1a1a1a" stroke-width="0.7"/>
<rect x="403.40" y="250.90" width="10.50" height="67.70" fill="none" stroke="#000" stroke-width="0.8"/>
<rect x="81.70" y="410.90" width="13.40" height="75.30" fill="#000" stroke="#000" stroke-width="0.8"/>
<rect x="95.90" y="412.40" width="12.50" height="73.80" fill="none" stroke="#1a1a1a" stroke-width="0.7"/>
<rect x="121.70" y="406.20" width="12.90" height="80.00" fill="#000" stroke="#000" stroke-width="0.8"/>
<rect x="135.40" y="404.70" width="12.20" height="81.50" fill="none" stroke="#1a1a1a" stroke-width="0.7"/>
<rect x="160.40" y="405.40" width="13.50" height="80.80" fill="#000" stroke="#000" stroke-width="0.8"/>
<rect x="174.70" y="403.70" width="12.40" height="82.50" fill="none" stroke="#1a1a1a" stroke-width="0.7"/>
<rect x="200.40" y="403.70" width="13.00" height="82.50" fill="#000" stroke="#000" stroke-width="0.8"/>
<rect x="214.20" y="402.90" width="12.20" height="83.30" fill="none" stroke="#1a1a1a" stroke-width="0.7"/>
<rect x="267.90" y="402.90" width="13.00" height="83.30" fill="#000" stroke="#000" stroke-width="0.8"/>
<rect x="281.70" y="410.40" width="12.40" height="75.80" fill="none" stroke="#1a1a1a" stroke-width="0.7"/>
<rect x="307.20" y="401.20" width="12.90" height="85.00" fill="#000" stroke="#000" stroke-width="0.8"/>
<rect x="320.90" y="416.20" width="12.50" height="70.00" fill="none" stroke="#1a1a1a" stroke-width="0.7"/>
<rect x="346.20" y="401.20" width="12.90" height="85.00" fill="#000" stroke="#000" stroke-width="0.8"/>
<rect x="359.90" y="416.20" width="12.70" height="70.00" fill="none" stroke="#1a1a1a" stroke-width="0.7"/>
<rect x="385.40" y="402.90" width="13.50" height="83.30" fill="#000" stroke="#000" stroke-width="0.8"/>
<rect x="399.70" y="418.70" width="12.40" height="67.50" fill="none" stroke="#1a1a1a" stroke-width="0.7"/>
<rect x="81.70" y="591.70" width="13.40" height="69.50" fill="#000" stroke="#000" stroke-width="0.8"/>
<rect x="95.90" y="584.20" width="12.50" height="77.00" fill="none" stroke="#1a1a1a" stroke-width="0.7"/>
<rect x="121.70" y="584.20" width="12.90" height="77.00" fill="#000" stroke="#000" stroke-width="0.8"/>
<rect x="135.40" y="570.40" width="12.20" height="90.80" fill="none" stroke="#1a1a1a" stroke-width="0.7"/>
<rect x="160.40" y="583.40" width="13.50" height="77.80" fill="#000" stroke="#000" stroke-width="0.8"/>
<rect x="174.70" y="566.20" width="12.40" height="95.00" fill="none" stroke="#1a1a1a" stroke-width="0.7"/>
<rect x="200.40" y="586.20" width="13.00" height="75.00" fill="#000" stroke="#000" stroke-width="0.8"/>
<rect x="214.20" y="567.40" width="12.20" height="93.80" fill="none" stroke="#1a1a1a" stroke-width="0.7"/>
<rect x="267.40" y="620.90" width="13.00" height="40.30" fill="#000" stroke="#000" stroke-width="0.8"/>
<rect x="281.20" y="595.40" width="12.90" height="65.80" fill="none" stroke="#1a1a1a" stroke-width="0.7"/>
<rect x="306.70" y="612.90" width="12.90" height="48.30" fill="#000" stroke="#000" stroke-width="0.8"/>
<rect x="320.40" y="586.20" width="13.00" height="75.00" fill="none" stroke="#1a1a1a" stroke-width="0.7"/>
<rect x="346.00" y="607.90" width="13.10" height="53.30" fill="#000" stroke="#000" stroke-width="0.8"/>
<rect x="359.90" y="576.70" width="12.70" height="84.50" fill="none" stroke="#1a1a1a" stroke-width="0.7"/>
<rect x="385.40" y="610.40" width="13.50" height="50.80" fill="#000" stroke="#000" stroke-width="0.8"/>
<rect x="399.70" y="579.70" width="12.40" height="81.50" fill="none" stroke="#1a1a1a" stroke-width="0.7"/>
<g style="filter:blur(0.3px)">
<text x="4.6" y="19.2" font-size="14.5" text-anchor="start" font-weight="bold" fill="#000" transform="rotate(0.04 4.6 19.2)" stroke="#000" stroke-width="0.22">A</text>
<text x="56.2" y="44.84" font-size="10.0" text-anchor="end" font-weight="bold" fill="#000" textLength="15.2" lengthAdjust="spacingAndGlyphs" transform="rotate(0.04 56.2 44.84)" stroke="#000" stroke-width="0.22">100</text>
<text x="56.2" y="65.04" font-size="10.0" text-anchor="end" font-weight="bold" fill="#000" textLength="10.2" lengthAdjust="spacingAndGlyphs" transform="rotate(0.04 56.2 65.04)" stroke="#000" stroke-width="0.22">80</text>
<text x="56.2" y="85.44" font-size="10.0" text-anchor="end" font-weight="bold" fill="#000" textLength="10.2" lengthAdjust="spacingAndGlyphs" transform="rotate(0.04 56.2 85.44)" stroke="#000" stroke-width="0.22">60</text>
<text x="56.2" y="105.74" font-size="10.0" text-anchor="end" font-weight="bold" fill="#000" textLength="10.2" lengthAdjust="spacingAndGlyphs" transform="rotate(0.04 56.2 105.74)" stroke="#000" stroke-width="0.22">40</text>
<text x="56.2" y="126.14" font-size="10.0" text-anchor="end" font-weight="bold" fill="#000" textLength="10.2" lengthAdjust="spacingAndGlyphs" transform="rotate(0.04 56.2 126.14)" stroke="#000" stroke-width="0.22">20</text>
<text x="56.2" y="146.44" font-size="10.0" text-anchor="end" font-weight="bold" fill="#000" textLength="5.1" lengthAdjust="spacingAndGlyphs" transform="rotate(0.04 56.2 146.44)" stroke="#000" stroke-width="0.22">0</text>
<text x="32.4" y="87.5" font-size="10.1" text-anchor="middle" font-weight="bold" fill="#000" textLength="112" lengthAdjust="spacingAndGlyphs" transform="rotate(-90 32.4 87.5)" stroke="#000" stroke-width="0.22">% Donor Cell Chimerism</text>
<text x="125" y="12.2" font-size="10.4" text-anchor="start" font-weight="bold" fill="#000" textLength="94.3" lengthAdjust="spacingAndGlyphs" transform="rotate(0.04 125 12.2)" stroke="#000" stroke-width="0.22">Competitive repopulation</text>
<text x="155" y="23.3" font-size="10.4" text-anchor="start" font-weight="bold" fill="#000" textLength="36.3" lengthAdjust="spacingAndGlyphs" transform="rotate(0.04 155 23.3)" stroke="#000" stroke-width="0.22">in 1<tspan font-size="7" dy="-3.2">0</tspan><tspan dy="3.2"> Mice</tspan></text>
<text x="313" y="12.2" font-size="10.4" text-anchor="start" font-weight="bold" fill="#000" textLength="112" lengthAdjust="spacingAndGlyphs" transform="rotate(0.04 313 12.2)" stroke="#000" stroke-width="0.22">Non-Competitive repopulation</text>
<text x="351.3" y="23.3" font-size="10.4" text-anchor="start" font-weight="bold" fill="#000" textLength="36.2" lengthAdjust="spacingAndGlyphs" transform="rotate(0.04 351.3 23.3)" stroke="#000" stroke-width="0.22">in 2<tspan font-size="7" dy="-3.2">0</tspan><tspan dy="3.2"> Mice</tspan></text>
<text x="104.9" y="45.6" font-size="9.9" text-anchor="middle" font-weight="bold" fill="#000" textLength="11.4" lengthAdjust="spacingAndGlyphs" transform="rotate(0.04 104.9 45.6)" stroke="#000" stroke-width="0.22">1:1</text>
<text x="227.1" y="45.6" font-size="9.9" text-anchor="middle" font-weight="bold" fill="#000" textLength="11.6" lengthAdjust="spacingAndGlyphs" transform="rotate(0.04 227.1 45.6)" stroke="#000" stroke-width="0.22">2:1</text>
<text x="327" y="53.8" font-size="7.4" text-anchor="start" font-weight="normal" fill="#222" textLength="22.1" lengthAdjust="spacingAndGlyphs" transform="rotate(-90 327 53.8)" stroke="#222" stroke-width="0.15">p&lt;0.007</text>
<text x="357.8" y="53.8" font-size="7.4" text-anchor="start" font-weight="normal" fill="#222" textLength="22.1" lengthAdjust="spacingAndGlyphs" transform="rotate(-90 357.8 53.8)" stroke="#222" stroke-width="0.15">p&lt;0.001</text>
<text x="388.8" y="53.8" font-size="7.4" text-anchor="start" font-weight="normal" fill="#222" textLength="22.1" lengthAdjust="spacingAndGlyphs" transform="rotate(-90 388.8 53.8)" stroke="#222" stroke-width="0.15">p&lt;0.001</text>
<text x="419.8" y="53.8" font-size="7.4" text-anchor="start" font-weight="normal" fill="#222" textLength="22.1" lengthAdjust="spacingAndGlyphs" transform="rotate(-90 419.8 53.8)" stroke="#222" stroke-width="0.15">p&lt;0.008</text>
<text x="76.9" y="152" font-size="9.8" text-anchor="middle" font-weight="bold" fill="#000" transform="rotate(0.04 76.9 152)" stroke="#000" stroke-width="0.22">1</text>
<text x="107.5" y="152" font-size="9.8" text-anchor="middle" font-weight="bold" fill="#000" transform="rotate(0.04 107.5 152)" stroke="#000" stroke-width="0.22">2</text>
<text x="138.3" y="152" font-size="9.8" text-anchor="middle" font-weight="bold" fill="#000" transform="rotate(0.04 138.3 152)" stroke="#000" stroke-width="0.22">4</text>
<text x="108.8" y="166.3" font-size="9.9" text-anchor="middle" font-weight="bold" fill="#000" textLength="28.3" lengthAdjust="spacingAndGlyphs" transform="rotate(0.04 108.8 166.3)" stroke="#000" stroke-width="0.22">Month</text>
<text x="197.8" y="152" font-size="9.8" text-anchor="middle" font-weight="bold" fill="#000" transform="rotate(0.04 197.8 152)" stroke="#000" stroke-width="0.22">1</text>
<text x="228.6" y="152" font-size="9.8" text-anchor="middle" font-weight="bold" fill="#000" transform="rotate(0.04 228.6 152)" stroke="#000" stroke-width="0.22">2</text>
<text x="259.2" y="152" font-size="9.8" text-anchor="middle" font-weight="bold" fill="#000" transform="rotate(0.04 259.2 152)" stroke="#000" stroke-width="0.22">4</text>
<text x="230.4" y="166.3" font-size="9.9" text-anchor="middle" font-weight="bold" fill="#000" textLength="28.3" lengthAdjust="spacingAndGlyphs" transform="rotate(0.04 230.4 166.3)" stroke="#000" stroke-width="0.22">Month</text>
<text x="321.2" y="152" font-size="9.8" text-anchor="middle" font-weight="bold" fill="#000" transform="rotate(0.04 321.2 152)" stroke="#000" stroke-width="0.22">1</text>
<text x="352" y="152" font-size="9.8" text-anchor="middle" font-weight="bold" fill="#000" transform="rotate(0.04 352 152)" stroke="#000" stroke-width="0.22">2</text>
<text x="383.2" y="152" font-size="9.8" text-anchor="middle" font-weight="bold" fill="#000" transform="rotate(0.04 383.2 152)" stroke="#000" stroke-width="0.22">4</text>
<text x="413.8" y="152" font-size="9.8" text-anchor="middle" font-weight="bold" fill="#000" transform="rotate(0.04 413.8 152)" stroke="#000" stroke-width="0.22">6</text>
<text x="368.8" y="166.3" font-size="9.9" text-anchor="middle" font-weight="bold" fill="#000" textLength="28.3" lengthAdjust="spacingAndGlyphs" transform="rotate(0.04 368.8 166.3)" stroke="#000" stroke-width="0.22">Month</text>
<text x="450.2" y="46.7" font-size="10.2" text-anchor="start" font-weight="bold" fill="#000" textLength="14.2" lengthAdjust="spacingAndGlyphs" transform="rotate(0.04 450.2 46.7)" stroke="#000" stroke-width="0.22">WT</text>
<text x="450.2" y="65" font-size="10.2" text-anchor="start" font-weight="bold" fill="#000" textLength="34.2" lengthAdjust="spacingAndGlyphs" transform="rotate(0.04 450.2 65)" stroke="#000" stroke-width="0.22">CD1d-/-</text>
<text x="450.2" y="83.2" font-size="10.2" text-anchor="start" font-weight="bold" fill="#000" textLength="65.8" lengthAdjust="spacingAndGlyphs" transform="rotate(0.04 450.2 83.2)" stroke="#000" stroke-width="0.22">CD1d-Knockin</text>
<text x="4.9" y="192.4" font-size="14.3" text-anchor="start" font-weight="bold" fill="#000" transform="rotate(0.04 4.9 192.4)" stroke="#000" stroke-width="0.22">B</text>
<text x="52.1" y="212.44" font-size="10.0" text-anchor="end" font-weight="bold" fill="#000" textLength="15.2" lengthAdjust="spacingAndGlyphs" transform="rotate(0.04 52.1 212.44)" stroke="#000" stroke-width="0.22">100</text>
<text x="52.1" y="234.14" font-size="10.0" text-anchor="end" font-weight="bold" fill="#000" textLength="10.2" lengthAdjust="spacingAndGlyphs" transform="rotate(0.04 52.1 234.14)" stroke="#000" stroke-width="0.22">80</text>
<text x="52.1" y="255.94" font-size="10.0" text-anchor="end" font-weight="bold" fill="#000" textLength="10.2" lengthAdjust="spacingAndGlyphs" transform="rotate(0.04 52.1 255.94)" stroke="#000" stroke-width="0.22">60</text>
<text x="52.1" y="277.44" font-size="10.0" text-anchor="end" font-weight="bold" fill="#000" textLength="10.2" lengthAdjust="spacingAndGlyphs" transform="rotate(0.04 52.1 277.44)" stroke="#000" stroke-width="0.22">40</text>
<text x="52.1" y="299.14" font-size="10.0" text-anchor="end" font-weight="bold" fill="#000" textLength="10.2" lengthAdjust="spacingAndGlyphs" transform="rotate(0.04 52.1 299.14)" stroke="#000" stroke-width="0.22">20</text>
<text x="52.1" y="321.04" font-size="10.0" text-anchor="end" font-weight="bold" fill="#000" textLength="5.1" lengthAdjust="spacingAndGlyphs" transform="rotate(0.04 52.1 321.04)" stroke="#000" stroke-width="0.22">0</text>
<text x="30" y="263.4" font-size="10" text-anchor="middle" font-weight="bold" fill="#000" textLength="112.3" lengthAdjust="spacingAndGlyphs" transform="rotate(-90 30 263.4)" stroke="#000" stroke-width="0.22">% Donor Cell Chimerism</text>
<text x="104.5" y="188" font-size="10.4" text-anchor="start" font-weight="bold" fill="#000" textLength="94.3" lengthAdjust="spacingAndGlyphs" transform="rotate(0.04 104.5 188)" stroke="#000" stroke-width="0.22">Competitive repopulation</text>
<text x="135" y="199.5" font-size="10.4" text-anchor="start" font-weight="bold" fill="#000" textLength="35" lengthAdjust="spacingAndGlyphs" transform="rotate(0.04 135 199.5)" stroke="#000" stroke-width="0.22">in 1<tspan font-size="7" dy="-3.2">0</tspan><tspan dy="3.2"> Mice</tspan></text>
<text x="281.3" y="188" font-size="10.4" text-anchor="start" font-weight="bold" fill="#000" textLength="111.7" lengthAdjust="spacingAndGlyphs" transform="rotate(0.04 281.3 188)" stroke="#000" stroke-width="0.22">Non-Competitive repopulation</text>
<text x="320" y="199.5" font-size="10.4" text-anchor="start" font-weight="bold" fill="#000" textLength="35.8" lengthAdjust="spacingAndGlyphs" transform="rotate(0.04 320 199.5)" stroke="#000" stroke-width="0.22">in 2<tspan font-size="7" dy="-3.2">0</tspan><tspan dy="3.2"> Mice</tspan></text>
<text x="184.1" y="245.3" font-size="6.6" text-anchor="start" font-weight="normal" fill="#2a2a2a" textLength="22.5" lengthAdjust="spacingAndGlyphs" transform="rotate(-90 184.1 245.3)">p&lt;0.041</text>
<text x="225.2" y="241.6" font-size="6.6" text-anchor="start" font-weight="normal" fill="#2a2a2a" textLength="22.5" lengthAdjust="spacingAndGlyphs" transform="rotate(-90 225.2 241.6)">p&lt;0.035</text>
<text x="289.7" y="230.3" font-size="6.6" text-anchor="start" font-weight="normal" fill="#2a2a2a" textLength="21.6" lengthAdjust="spacingAndGlyphs" transform="rotate(-90 289.7 230.3)">p&lt;0.001</text>
<text x="319" y="230.3" font-size="6.6" text-anchor="start" font-weight="normal" fill="#2a2a2a" textLength="18.1" lengthAdjust="spacingAndGlyphs" transform="rotate(-90 319 230.3)">p&lt;0.03</text>
<text x="329.1" y="230.3" font-size="6.6" text-anchor="start" font-weight="normal" fill="#2a2a2a" textLength="21.6" lengthAdjust="spacingAndGlyphs" transform="rotate(-90 329.1 230.3)">p&lt;0.001</text>
<text x="360" y="230.3" font-size="6.6" text-anchor="start" font-weight="normal" fill="#2a2a2a" textLength="18.1" lengthAdjust="spacingAndGlyphs" transform="rotate(-90 360 230.3)">p&lt;0.03</text>
<text x="370.5" y="230.3" font-size="6.6" text-anchor="start" font-weight="normal" fill="#2a2a2a" textLength="18.1" lengthAdjust="spacingAndGlyphs" transform="rotate(-90 370.5 230.3)">p&lt;0.03</text>
<text x="399.3" y="230.3" font-size="6.6" text-anchor="start" font-weight="normal" fill="#2a2a2a" textLength="21.6" lengthAdjust="spacingAndGlyphs" transform="rotate(-90 399.3 230.3)">p&lt;0.001</text>
<text x="410.5" y="230.3" font-size="6.6" text-anchor="start" font-weight="normal" fill="#2a2a2a" textLength="18.1" lengthAdjust="spacingAndGlyphs" transform="rotate(-90 410.5 230.3)">p&lt;0.02</text>
<text x="89.1" y="329.8" font-size="9.8" text-anchor="middle" font-weight="bold" fill="#000" transform="rotate(0.04 89.1 329.8)" stroke="#000" stroke-width="0.22">1</text>
<text x="129.1" y="329.8" font-size="9.8" text-anchor="middle" font-weight="bold" fill="#000" transform="rotate(0.04 129.1 329.8)" stroke="#000" stroke-width="0.22">2</text>
<text x="169.1" y="329.8" font-size="9.8" text-anchor="middle" font-weight="bold" fill="#000" transform="rotate(0.04 169.1 329.8)" stroke="#000" stroke-width="0.22">4</text>
<text x="209.1" y="329.8" font-size="9.8" text-anchor="middle" font-weight="bold" fill="#000" transform="rotate(0.04 209.1 329.8)" stroke="#000" stroke-width="0.22">6</text>
<text x="148.2" y="341.8" font-size="9.9" text-anchor="middle" font-weight="bold" fill="#000" textLength="28.3" lengthAdjust="spacingAndGlyphs" transform="rotate(0.04 148.2 341.8)" stroke="#000" stroke-width="0.22">Month</text>
<text x="277.5" y="329.8" font-size="9.8" text-anchor="middle" font-weight="bold" fill="#000" transform="rotate(0.04 277.5 329.8)" stroke="#000" stroke-width="0.22">1</text>
<text x="317.3" y="329.8" font-size="9.8" text-anchor="middle" font-weight="bold" fill="#000" transform="rotate(0.04 317.3 329.8)" stroke="#000" stroke-width="0.22">2</text>
<text x="357.1" y="329.8" font-size="9.8" text-anchor="middle" font-weight="bold" fill="#000" transform="rotate(0.04 357.1 329.8)" stroke="#000" stroke-width="0.22">4</text>
<text x="396.5" y="329.8" font-size="9.8" text-anchor="middle" font-weight="bold" fill="#000" transform="rotate(0.04 396.5 329.8)" stroke="#000" stroke-width="0.22">6</text>
<text x="337.4" y="341.8" font-size="9.9" text-anchor="middle" font-weight="bold" fill="#000" textLength="28.3" lengthAdjust="spacingAndGlyphs" transform="rotate(0.04 337.4 341.8)" stroke="#000" stroke-width="0.22">Month</text>
<text x="4.9" y="365.7" font-size="14.5" text-anchor="start" font-weight="bold" fill="#000" transform="rotate(0.04 4.9 365.7)" stroke="#000" stroke-width="0.22">C</text>
<text x="56.9" y="405.44" font-size="10.0" text-anchor="end" font-weight="bold" fill="#000" textLength="15.2" lengthAdjust="spacingAndGlyphs" transform="rotate(0.04 56.9 405.44)" stroke="#000" stroke-width="0.22">100</text>
<text x="56.9" y="422.74" font-size="10.0" text-anchor="end" font-weight="bold" fill="#000" textLength="10.2" lengthAdjust="spacingAndGlyphs" transform="rotate(0.04 56.9 422.74)" stroke="#000" stroke-width="0.22">80</text>
<text x="56.9" y="439.94" font-size="10.0" text-anchor="end" font-weight="bold" fill="#000" textLength="10.2" lengthAdjust="spacingAndGlyphs" transform="rotate(0.04 56.9 439.94)" stroke="#000" stroke-width="0.22">60</text>
<text x="56.9" y="457.14" font-size="10.0" text-anchor="end" font-weight="bold" fill="#000" textLength="10.2" lengthAdjust="spacingAndGlyphs" transform="rotate(0.04 56.9 457.14)" stroke="#000" stroke-width="0.22">40</text>
<text x="56.9" y="474.34" font-size="10.0" text-anchor="end" font-weight="bold" fill="#000" textLength="10.2" lengthAdjust="spacingAndGlyphs" transform="rotate(0.04 56.9 474.34)" stroke="#000" stroke-width="0.22">20</text>
<text x="56.9" y="491.44" font-size="10.0" text-anchor="end" font-weight="bold" fill="#000" textLength="5.1" lengthAdjust="spacingAndGlyphs" transform="rotate(0.04 56.9 491.44)" stroke="#000" stroke-width="0.22">0</text>
<text x="33" y="436" font-size="10.2" text-anchor="middle" font-weight="bold" fill="#000" textLength="111.2" lengthAdjust="spacingAndGlyphs" transform="rotate(-90 33 436)" stroke="#000" stroke-width="0.22">% Donor Cell Chimerism</text>
<text x="97" y="358.8" font-size="10.4" text-anchor="start" font-weight="bold" fill="#000" textLength="110.5" lengthAdjust="spacingAndGlyphs" transform="rotate(0.04 97 358.8)" stroke="#000" stroke-width="0.22">Non-Competitive repopulation</text>
<text x="134.5" y="370" font-size="10.4" text-anchor="start" font-weight="bold" fill="#000" textLength="35.5" lengthAdjust="spacingAndGlyphs" transform="rotate(0.04 134.5 370)" stroke="#000" stroke-width="0.22">in 1<tspan font-size="7" dy="-3.2">0</tspan><tspan dy="3.2"> Mice</tspan></text>
<text x="282" y="357.5" font-size="10.4" text-anchor="start" font-weight="bold" fill="#000" textLength="111.8" lengthAdjust="spacingAndGlyphs" transform="rotate(0.04 282 357.5)" stroke="#000" stroke-width="0.22">Non-Competitive repopulation</text>
<text x="320" y="368.8" font-size="10.4" text-anchor="start" font-weight="bold" fill="#000" textLength="35.8" lengthAdjust="spacingAndGlyphs" transform="rotate(0.04 320 368.8)" stroke="#000" stroke-width="0.22">in 2<tspan font-size="7" dy="-3.2">0</tspan><tspan dy="3.2"> Mice</tspan></text>
<text x="291.2" y="402.6" font-size="6.8" text-anchor="start" font-weight="normal" fill="#2a2a2a" textLength="22.6" lengthAdjust="spacingAndGlyphs" transform="rotate(-90 291.2 402.6)">p&lt;0.002</text>
<text x="329.2" y="402.6" font-size="6.8" text-anchor="start" font-weight="normal" fill="#2a2a2a" textLength="22.6" lengthAdjust="spacingAndGlyphs" transform="rotate(-90 329.2 402.6)">p&lt;0.003</text>
<text x="368.2" y="402.6" font-size="6.8" text-anchor="start" font-weight="normal" fill="#2a2a2a" textLength="22.6" lengthAdjust="spacingAndGlyphs" transform="rotate(-90 368.2 402.6)">p&lt;0.034</text>
<text x="408.2" y="402.6" font-size="6.8" text-anchor="start" font-weight="normal" fill="#2a2a2a" textLength="22.6" lengthAdjust="spacingAndGlyphs" transform="rotate(-90 408.2 402.6)">p&lt;0.043</text>
<text x="95.1" y="499.6" font-size="9.8" text-anchor="middle" font-weight="bold" fill="#000" transform="rotate(0.04 95.1 499.6)" stroke="#000" stroke-width="0.22">1</text>
<text x="134.5" y="499.6" font-size="9.8" text-anchor="middle" font-weight="bold" fill="#000" transform="rotate(0.04 134.5 499.6)" stroke="#000" stroke-width="0.22">2</text>
<text x="174.2" y="499.6" font-size="9.8" text-anchor="middle" font-weight="bold" fill="#000" transform="rotate(0.04 174.2 499.6)" stroke="#000" stroke-width="0.22">4</text>
<text x="213.2" y="499.6" font-size="9.8" text-anchor="middle" font-weight="bold" fill="#000" transform="rotate(0.04 213.2 499.6)" stroke="#000" stroke-width="0.22">6</text>
<text x="153.2" y="511.8" font-size="9.9" text-anchor="middle" font-weight="bold" fill="#000" textLength="28.3" lengthAdjust="spacingAndGlyphs" transform="rotate(0.04 153.2 511.8)" stroke="#000" stroke-width="0.22">Month</text>
<text x="281.4" y="499.6" font-size="9.8" text-anchor="middle" font-weight="bold" fill="#000" transform="rotate(0.04 281.4 499.6)" stroke="#000" stroke-width="0.22">1</text>
<text x="320" y="499.6" font-size="9.8" text-anchor="middle" font-weight="bold" fill="#000" transform="rotate(0.04 320 499.6)" stroke="#000" stroke-width="0.22">2</text>
<text x="359.4" y="499.6" font-size="9.8" text-anchor="middle" font-weight="bold" fill="#000" transform="rotate(0.04 359.4 499.6)" stroke="#000" stroke-width="0.22">4</text>
<text x="398" y="499.6" font-size="9.8" text-anchor="middle" font-weight="bold" fill="#000" transform="rotate(0.04 398 499.6)" stroke="#000" stroke-width="0.22">6</text>
<text x="340.6" y="511.8" font-size="9.9" text-anchor="middle" font-weight="bold" fill="#000" textLength="28.3" lengthAdjust="spacingAndGlyphs" transform="rotate(0.04 340.6 511.8)" stroke="#000" stroke-width="0.22">Month</text>
<text x="5.1" y="538.3" font-size="14.4" text-anchor="start" font-weight="bold" fill="#000" transform="rotate(0.04 5.1 538.3)" stroke="#000" stroke-width="0.22">D</text>
<text x="57.1" y="565.24" font-size="10.0" text-anchor="end" font-weight="bold" fill="#000" textLength="15.2" lengthAdjust="spacingAndGlyphs" transform="rotate(0.04 57.1 565.24)" stroke="#000" stroke-width="0.22">100</text>
<text x="57.1" y="585.44" font-size="10.0" text-anchor="end" font-weight="bold" fill="#000" textLength="10.2" lengthAdjust="spacingAndGlyphs" transform="rotate(0.04 57.1 585.44)" stroke="#000" stroke-width="0.22">80</text>
<text x="57.1" y="605.74" font-size="10.0" text-anchor="end" font-weight="bold" fill="#000" textLength="10.2" lengthAdjust="spacingAndGlyphs" transform="rotate(0.04 57.1 605.74)" stroke="#000" stroke-width="0.22">60</text>
<text x="57.1" y="625.74" font-size="10.0" text-anchor="end" font-weight="bold" fill="#000" textLength="10.2" lengthAdjust="spacingAndGlyphs" transform="rotate(0.04 57.1 625.74)" stroke="#000" stroke-width="0.22">40</text>
<text x="57.1" y="645.94" font-size="10.0" text-anchor="end" font-weight="bold" fill="#000" textLength="10.2" lengthAdjust="spacingAndGlyphs" transform="rotate(0.04 57.1 645.94)" stroke="#000" stroke-width="0.22">20</text>
<text x="57.1" y="665.94" font-size="10.0" text-anchor="end" font-weight="bold" fill="#000" textLength="5.1" lengthAdjust="spacingAndGlyphs" transform="rotate(0.04 57.1 665.94)" stroke="#000" stroke-width="0.22">0</text>
<text x="34.1" y="601.4" font-size="10.2" text-anchor="middle" font-weight="bold" fill="#000" textLength="112.3" lengthAdjust="spacingAndGlyphs" transform="rotate(-90 34.1 601.4)" stroke="#000" stroke-width="0.22">% Donor Cell Chimerism</text>
<text x="86.3" y="534.5" font-size="10.4" text-anchor="start" font-weight="bold" fill="#000" textLength="93.7" lengthAdjust="spacingAndGlyphs" transform="rotate(0.04 86.3 534.5)" stroke="#000" stroke-width="0.22">Competitive repopulation</text>
<text x="107.5" y="546.3" font-size="10.4" text-anchor="start" font-weight="bold" fill="#000" textLength="50.0" lengthAdjust="spacingAndGlyphs" transform="rotate(0.04 107.5 546.3)" stroke="#000" stroke-width="0.22">in 1<tspan font-size="7" dy="-3.2">0</tspan><tspan dy="3.2"> Mice&#160; 1:1</tspan></text>
<text x="297.5" y="534.5" font-size="10.4" text-anchor="start" font-weight="bold" fill="#000" textLength="113.0" lengthAdjust="spacingAndGlyphs" transform="rotate(0.04 297.5 534.5)" stroke="#000" stroke-width="0.22">Non-Competitive repopulation</text>
<text x="335" y="546.3" font-size="10.4" text-anchor="start" font-weight="bold" fill="#000" textLength="36.3" lengthAdjust="spacingAndGlyphs" transform="rotate(0.04 335 546.3)" stroke="#000" stroke-width="0.22">in 2<tspan font-size="7" dy="-3.2">0</tspan><tspan dy="3.2"> Mice</tspan></text>
<text x="105.2" y="575.2" font-size="6.8" text-anchor="start" font-weight="normal" fill="#2a2a2a" textLength="18.6" lengthAdjust="spacingAndGlyphs" transform="rotate(-90 105.2 575.2)">p&lt;0.06</text>
<text x="156.2" y="575" font-size="6.8" text-anchor="start" font-weight="normal" fill="#2a2a2a" textLength="18.8" lengthAdjust="spacingAndGlyphs" transform="rotate(-90 156.2 575)">p&lt;0.02</text>
<text x="196.4" y="576.3" font-size="6.8" text-anchor="start" font-weight="normal" fill="#2a2a2a" textLength="22.5" lengthAdjust="spacingAndGlyphs" transform="rotate(-90 196.4 576.3)">p&lt;0.007</text>
<text x="236.9" y="576.3" font-size="6.8" text-anchor="start" font-weight="normal" fill="#2a2a2a" textLength="22.5" lengthAdjust="spacingAndGlyphs" transform="rotate(-90 236.9 576.3)">p&lt;0.004</text>
<text x="290.7" y="577.5" font-size="6.8" text-anchor="start" font-weight="normal" fill="#2a2a2a" textLength="22" lengthAdjust="spacingAndGlyphs" transform="rotate(-90 290.7 577.5)">p&lt;0.001</text>
<text x="329.4" y="577.5" font-size="6.8" text-anchor="start" font-weight="normal" fill="#2a2a2a" textLength="22" lengthAdjust="spacingAndGlyphs" transform="rotate(-90 329.4 577.5)">p&lt;0.002</text>
<text x="373.9" y="576.3" font-size="6.8" text-anchor="start" font-weight="normal" fill="#2a2a2a" textLength="22" lengthAdjust="spacingAndGlyphs" transform="rotate(-90 373.9 576.3)">p&lt;0.002</text>
<text x="411.9" y="576.3" font-size="6.8" text-anchor="start" font-weight="normal" fill="#2a2a2a" textLength="22" lengthAdjust="spacingAndGlyphs" transform="rotate(-90 411.9 576.3)">p&lt;0.013</text>
<text x="95.1" y="671.4" font-size="9.8" text-anchor="middle" font-weight="bold" fill="#000" transform="rotate(0.04 95.1 671.4)" stroke="#000" stroke-width="0.22">1</text>
<text x="134.5" y="671.4" font-size="9.8" text-anchor="middle" font-weight="bold" fill="#000" transform="rotate(0.04 134.5 671.4)" stroke="#000" stroke-width="0.22">2</text>
<text x="174.2" y="671.4" font-size="9.8" text-anchor="middle" font-weight="bold" fill="#000" transform="rotate(0.04 174.2 671.4)" stroke="#000" stroke-width="0.22">4</text>
<text x="213.2" y="671.4" font-size="9.8" text-anchor="middle" font-weight="bold" fill="#000" transform="rotate(0.04 213.2 671.4)" stroke="#000" stroke-width="0.22">6</text>
<text x="153.2" y="682.9" font-size="9.9" text-anchor="middle" font-weight="bold" fill="#000" textLength="28.3" lengthAdjust="spacingAndGlyphs" transform="rotate(0.04 153.2 682.9)" stroke="#000" stroke-width="0.22">Month</text>
<text x="281.4" y="671.4" font-size="9.8" text-anchor="middle" font-weight="bold" fill="#000" transform="rotate(0.04 281.4 671.4)" stroke="#000" stroke-width="0.22">1</text>
<text x="320" y="671.4" font-size="9.8" text-anchor="middle" font-weight="bold" fill="#000" transform="rotate(0.04 320 671.4)" stroke="#000" stroke-width="0.22">2</text>
<text x="359.4" y="671.4" font-size="9.8" text-anchor="middle" font-weight="bold" fill="#000" transform="rotate(0.04 359.4 671.4)" stroke="#000" stroke-width="0.22">4</text>
<text x="398" y="671.4" font-size="9.8" text-anchor="middle" font-weight="bold" fill="#000" transform="rotate(0.04 398 671.4)" stroke="#000" stroke-width="0.22">6</text>
<text x="340.6" y="682.9" font-size="9.9" text-anchor="middle" font-weight="bold" fill="#000" textLength="28.3" lengthAdjust="spacingAndGlyphs" transform="rotate(0.04 340.6 682.9)" stroke="#000" stroke-width="0.22">Month</text>
</g>
</svg>
</body></html>
